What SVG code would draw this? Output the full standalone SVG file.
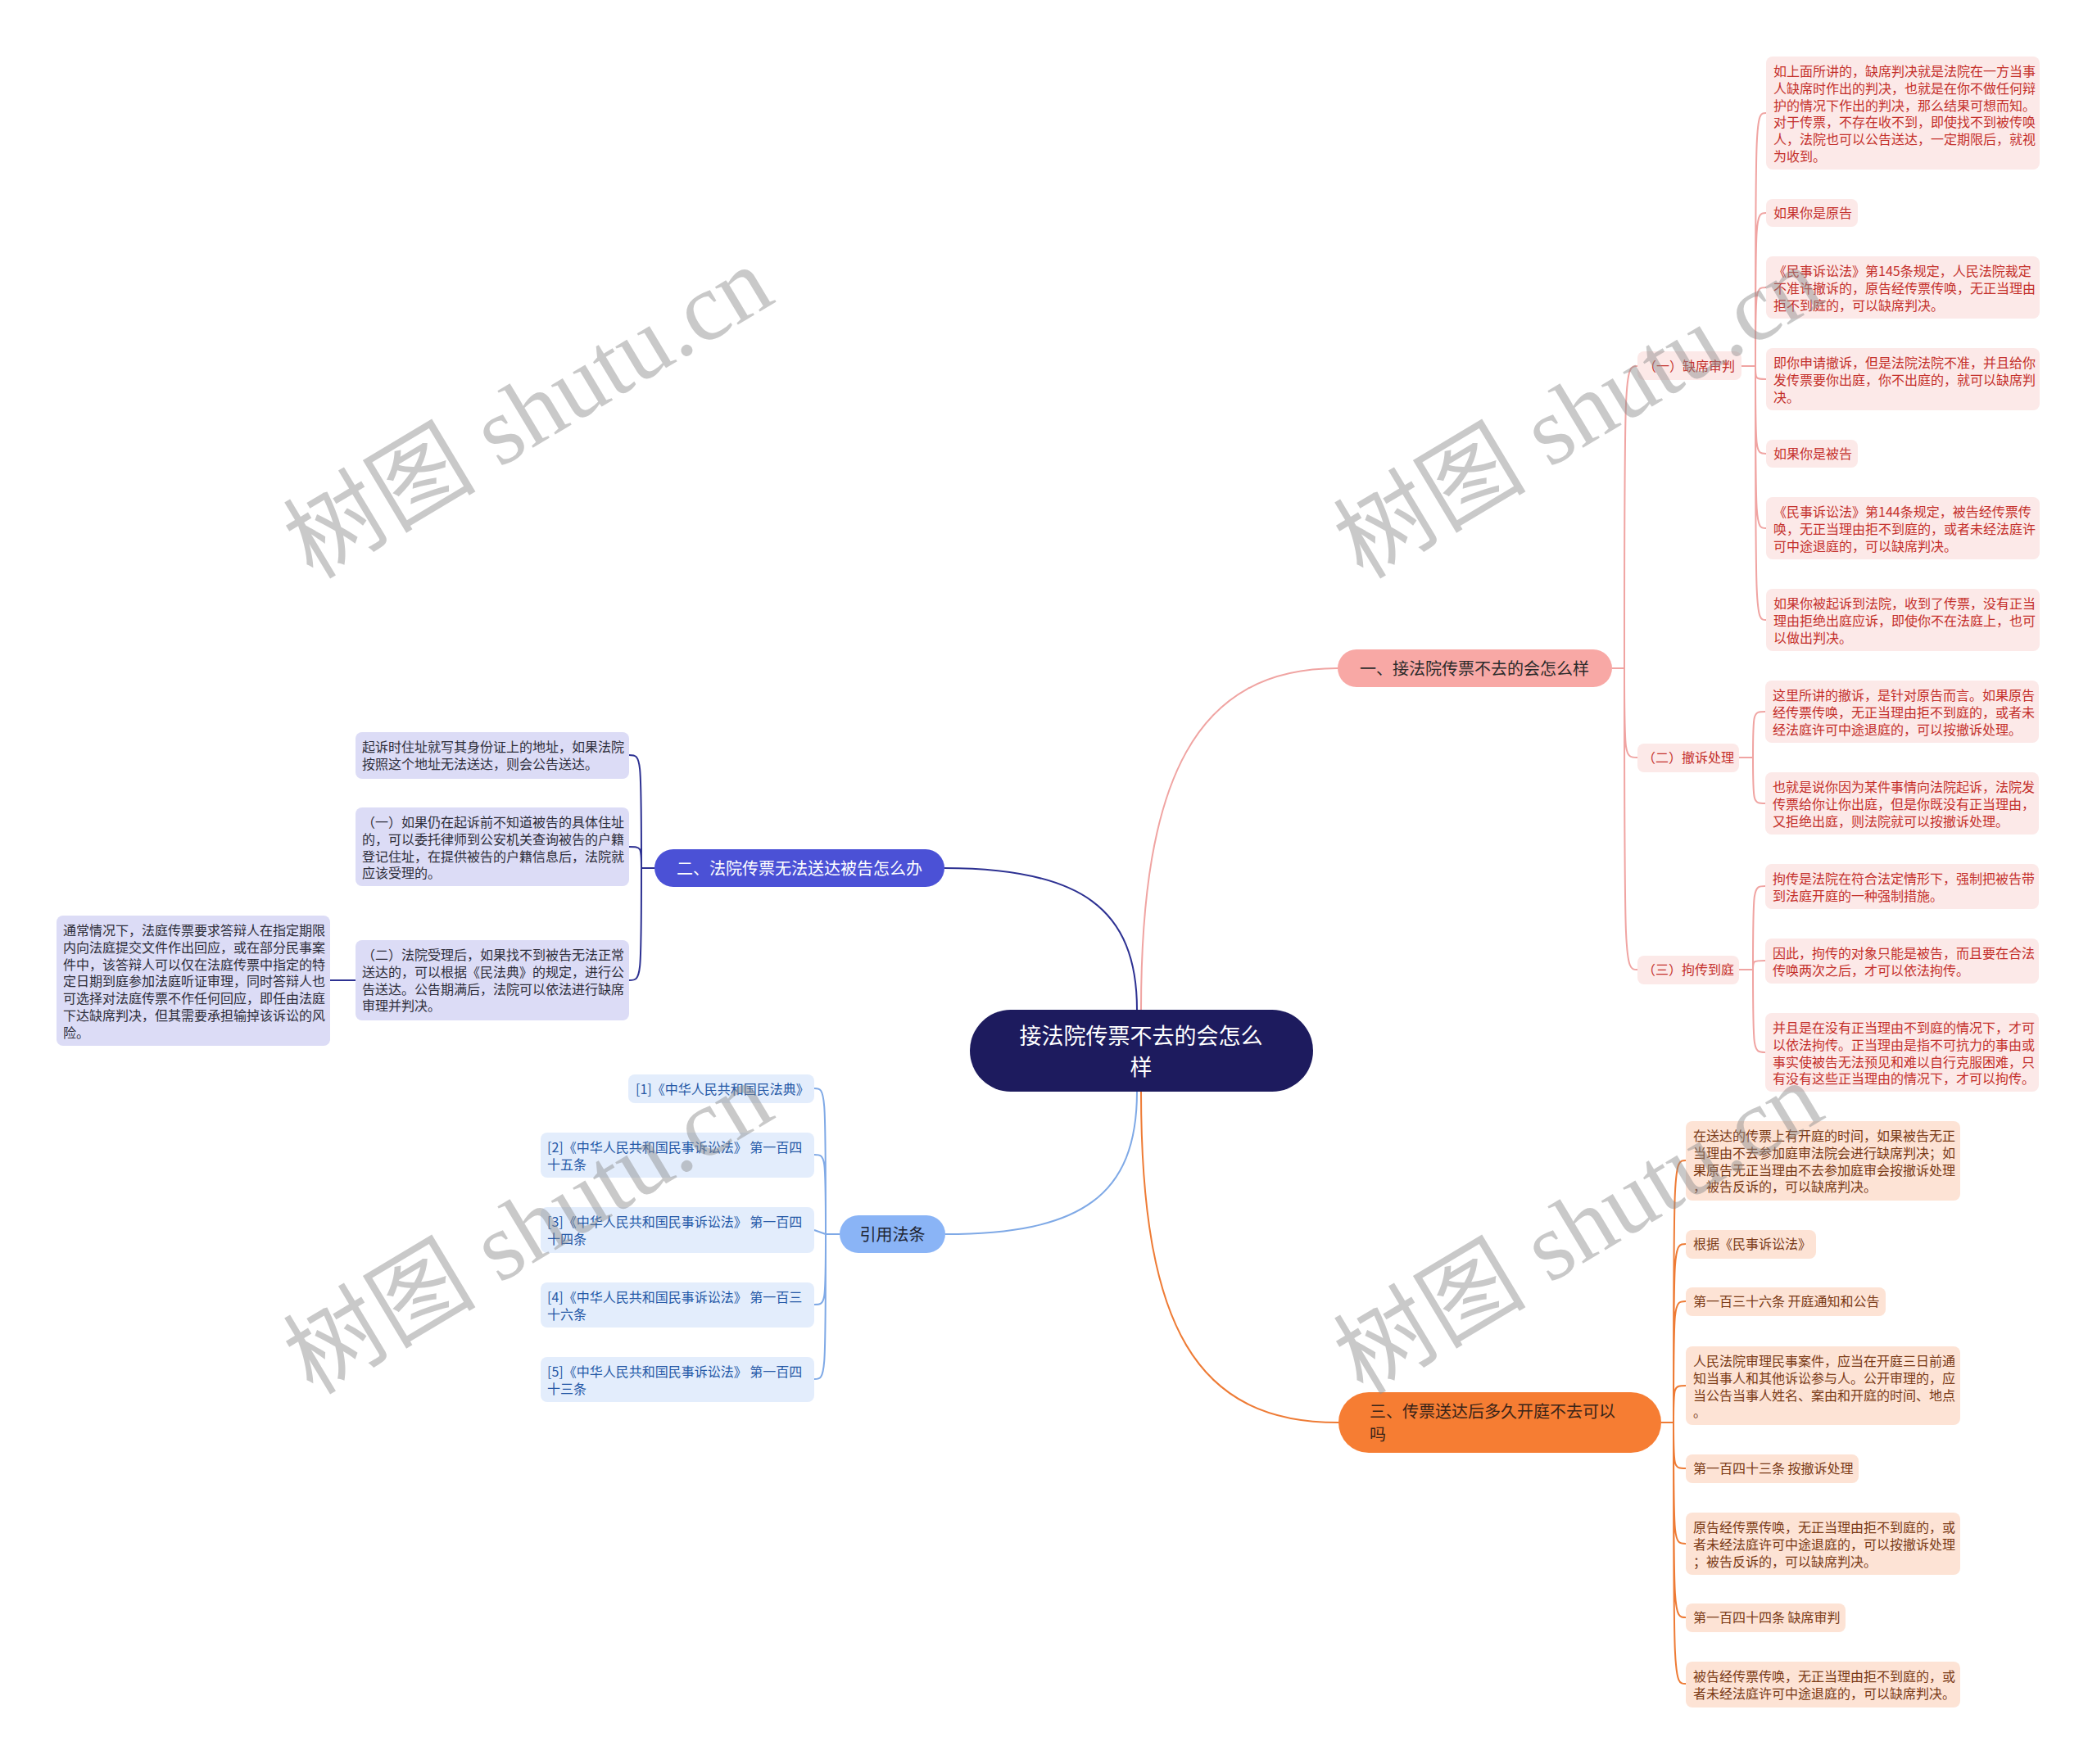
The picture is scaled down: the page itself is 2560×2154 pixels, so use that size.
<svg xmlns="http://www.w3.org/2000/svg" width="2560" height="2154" viewBox="0 0 2560 2154">
<style>
text{font-family:"Noto Sans CJK SC","Noto Sans",sans-serif;}
.s16{font-size:16px;}
.s20{font-size:20px;}
.lp{fill:#C4302B;}
.lb{fill:#2E2E3A;}
.lo{fill:#7A3A16;}
.lr{fill:#2558A6;}
.rp{fill:#FCE9E8;}
.rb{fill:#DCDCF6;}
.ro{fill:#FDE3D5;}
.rr{fill:#E3EDFC;}
.cp{fill:none;stroke:#F0A4A2;stroke-width:2;}
.cb{fill:none;stroke:#2D3192;stroke-width:2;}
.co{fill:none;stroke:#EE7B35;stroke-width:2;}
.cr{fill:none;stroke:#7FA9E6;stroke-width:2;}
.wm{font-family:"Liberation Serif","Noto Sans CJK SC",serif;font-size:118px;fill:#8a8a8a;opacity:0.45;}
</style>
<rect width="2560" height="2154" fill="#ffffff"/>
<g id="connectors">
<path class="cp" stroke-width="2.5" d="M1393,1233 C1393,950 1460,816 1633,816"/>
<path class="cb" stroke-width="2.5" d="M1388,1233 C1388,1110 1320,1060 1153,1060"/>
<path class="cr" stroke-width="2.5" d="M1388,1333 C1388,1460 1320,1507 1154,1507"/>
<path class="co" stroke-width="2.5" d="M1393,1333 C1393,1620 1460,1737 1634,1737"/>
<path class="cp" d="M1968,816 L1983,816 M1983,816 C1983,447 1983,447 1999,447 M1983,816 C1983,925 1983,925 1999,925 M1983,816 C1983,1184 1983,1184 1999,1184"/>
<path class="cp" d="M2126,447 L2143,447 M2143,447 C2143,138 2143,138 2156,138 M2143,447 C2143,260 2143,260 2156,260 M2143,447 C2143,351 2143,351 2156,351 M2143,447 C2143,463 2143,463 2156,463 M2143,447 C2143,554 2143,554 2156,554 M2143,447 C2143,645 2143,645 2156,645 M2143,447 C2143,757 2143,757 2156,757"/>
<path class="cp" d="M2123,925 L2140,925 M2140,925 C2140,869 2140,869 2155,869 M2140,925 C2140,981 2140,981 2155,981"/>
<path class="cp" d="M2123,1184 L2140,1184 M2140,1184 C2140,1082 2140,1082 2155,1082 M2140,1184 C2140,1173 2140,1173 2155,1173 M2140,1184 C2140,1285 2140,1285 2155,1285"/>
<path class="cb" d="M799,1060 L783,1060 M783,1060 C783,922 783,922 768,922 M783,1060 C783,1034 783,1034 768,1034 M783,1060 C783,1197 783,1197 768,1197 M434,1197 L403,1197"/>
<path class="cr" d="M1025,1507 L1008,1507 M1008,1507 C1008,1329 1008,1329 994,1329 M1008,1507 C1008,1410 1008,1410 994,1410 M1008,1507 L994,1502 M1008,1507 C1008,1593 1008,1593 994,1593 M1008,1507 C1008,1684 1008,1684 994,1684"/>
<path class="co" d="M2028,1737 L2043,1737 M2043,1737 C2043,1417 2043,1417 2058,1417 M2043,1737 C2043,1519 2043,1519 2058,1519 M2043,1737 C2043,1589 2043,1589 2058,1589 M2043,1737 C2043,1692 2043,1692 2058,1692 M2043,1737 C2043,1793 2043,1793 2058,1793 M2043,1737 C2043,1885 2043,1885 2058,1885 M2043,1737 C2043,1975 2043,1975 2058,1975 M2043,1737 C2043,2056 2043,2056 2058,2056"/>
</g>

<g id="root">
<rect x="1184" y="1233" width="419" height="100" rx="50" fill="#1D1B5E"/>
<text x="1393" y="1275" font-size="27" fill="#ffffff" text-anchor="middle">接法院传票不去的会怎么</text>
<text x="1393" y="1313" font-size="27" fill="#ffffff" text-anchor="middle">样</text>
</g>

<g id="n1">
<rect x="1633" y="793" width="335" height="46" rx="23" fill="#F8A8A5"/>
<text class="s20" x="1800" y="823.5" fill="#2b2b2b" text-anchor="middle">一、接法院传票不去的会怎么样</text>
</g>
<g id="n1-1">
<rect x="1999" y="429" width="127" height="35" rx="8" class="rp"/>
<text class="s16 lp" x="2062" y="453" text-anchor="middle">（一）缺席审判</text>
</g>
<g id="n1-2">
<rect x="1999" y="908" width="124" height="35" rx="8" class="rp"/>
<text class="s16 lp" x="2061" y="931" text-anchor="middle">（二）撤诉处理</text>
</g>
<g id="n1-3">
<rect x="1999" y="1167" width="124" height="35" rx="8" class="rp"/>
<text class="s16 lp" x="2061" y="1190" text-anchor="middle">（三）拘传到庭</text>
</g>

<g id="p1"><rect x="2156" y="69" width="334" height="138" rx="8" class="rp"/>
<text class="s16 lp" x="2165" y="93"><tspan x="2165">如上面所讲的，缺席判决就是法院在一方当事</tspan><tspan x="2165" dy="20.8">人缺席时作出的判决，也就是在你不做任何辩</tspan><tspan x="2165" dy="20.8">护的情况下作出的判决，那么结果可想而知。</tspan><tspan x="2165" dy="20.8">对于传票，不存在收不到，即使找不到被传唤</tspan><tspan x="2165" dy="20.8">人，法院也可以公告送达，一定期限后，就视</tspan><tspan x="2165" dy="20.8">为收到。</tspan></text></g>
<g id="p2"><rect x="2156" y="243" width="112" height="34" rx="8" class="rp"/>
<text class="s16 lp" x="2165" y="266">如果你是原告</text></g>
<g id="p3"><rect x="2156" y="313" width="334" height="76" rx="8" class="rp"/>
<text class="s16 lp" x="2165" y="337"><tspan x="2165">《民事诉讼法》第145条规定，人民法院裁定</tspan><tspan x="2165" dy="20.8">不准许撤诉的，原告经传票传唤，无正当理由</tspan><tspan x="2165" dy="20.8">拒不到庭的，可以缺席判决。</tspan></text></g>
<g id="p4"><rect x="2156" y="425" width="334" height="76" rx="8" class="rp"/>
<text class="s16 lp" x="2165" y="449"><tspan x="2165">即你申请撤诉，但是法院法院不准，并且给你</tspan><tspan x="2165" dy="20.8">发传票要你出庭，你不出庭的，就可以缺席判</tspan><tspan x="2165" dy="20.8">决。</tspan></text></g>
<g id="p5"><rect x="2156" y="537" width="112" height="34" rx="8" class="rp"/>
<text class="s16 lp" x="2165" y="560">如果你是被告</text></g>
<g id="p6"><rect x="2156" y="607" width="334" height="76" rx="8" class="rp"/>
<text class="s16 lp" x="2165" y="631"><tspan x="2165">《民事诉讼法》第144条规定，被告经传票传</tspan><tspan x="2165" dy="20.8">唤，无正当理由拒不到庭的，或者未经法庭许</tspan><tspan x="2165" dy="20.8">可中途退庭的，可以缺席判决。</tspan></text></g>
<g id="p7"><rect x="2156" y="719" width="334" height="76" rx="8" class="rp"/>
<text class="s16 lp" x="2165" y="743"><tspan x="2165">如果你被起诉到法院，收到了传票，没有正当</tspan><tspan x="2165" dy="20.8">理由拒绝出庭应诉，即使你不在法庭上，也可</tspan><tspan x="2165" dy="20.8">以做出判决。</tspan></text></g>
<g id="q1"><rect x="2155" y="831" width="334" height="76" rx="8" class="rp"/>
<text class="s16 lp" x="2164" y="855"><tspan x="2164">这里所讲的撤诉，是针对原告而言。如果原告</tspan><tspan x="2164" dy="20.8">经传票传唤，无正当理由拒不到庭的，或者未</tspan><tspan x="2164" dy="20.8">经法庭许可中途退庭的，可以按撤诉处理。</tspan></text></g>
<g id="q2"><rect x="2155" y="943" width="334" height="76" rx="8" class="rp"/>
<text class="s16 lp" x="2164" y="967"><tspan x="2164">也就是说你因为某件事情向法院起诉，法院发</tspan><tspan x="2164" dy="20.8">传票给你让你出庭，但是你既没有正当理由，</tspan><tspan x="2164" dy="20.8">又拒绝出庭，则法院就可以按撤诉处理。</tspan></text></g>
<g id="r1"><rect x="2155" y="1055" width="334" height="55" rx="8" class="rp"/>
<text class="s16 lp" x="2164" y="1079"><tspan x="2164">拘传是法院在符合法定情形下，强制把被告带</tspan><tspan x="2164" dy="20.8">到法庭开庭的一种强制措施。</tspan></text></g>
<g id="r2"><rect x="2155" y="1146" width="334" height="55" rx="8" class="rp"/>
<text class="s16 lp" x="2164" y="1170"><tspan x="2164">因此，拘传的对象只能是被告，而且要在合法</tspan><tspan x="2164" dy="20.8">传唤两次之后，才可以依法拘传。</tspan></text></g>
<g id="r3"><rect x="2155" y="1237" width="334" height="96" rx="8" class="rp"/>
<text class="s16 lp" x="2164" y="1261"><tspan x="2164">并且是在没有正当理由不到庭的情况下，才可</tspan><tspan x="2164" dy="20.8">以依法拘传。正当理由是指不可抗力的事由或</tspan><tspan x="2164" dy="20.8">事实使被告无法预见和难以自行克服困难，只</tspan><tspan x="2164" dy="20.8">有没有这些正当理由的情况下，才可以拘传。</tspan></text></g>

<g id="n2">
<rect x="799" y="1037" width="354" height="46" rx="23" fill="#4B51D6"/>
<text class="s20" x="976" y="1067.5" fill="#ffffff" text-anchor="middle">二、法院传票无法送达被告怎么办</text>
</g>
<g id="b1"><rect x="434" y="894" width="334" height="57" rx="8" class="rb"/>
<text class="s16 lb" x="442" y="918"><tspan x="442">起诉时住址就写其身份证上的地址，如果法院</tspan><tspan x="442" dy="20.8">按照这个地址无法送达，则会公告送达。</tspan></text></g>
<g id="b2"><rect x="434" y="986" width="334" height="96" rx="8" class="rb"/>
<text class="s16 lb" x="442" y="1010"><tspan x="442">（一）如果仍在起诉前不知道被告的具体住址</tspan><tspan x="442" dy="20.8">的，可以委托律师到公安机关查询被告的户籍</tspan><tspan x="442" dy="20.8">登记住址，在提供被告的户籍信息后，法院就</tspan><tspan x="442" dy="20.8">应该受理的。</tspan></text></g>
<g id="b3"><rect x="434" y="1148" width="334" height="98" rx="8" class="rb"/>
<text class="s16 lb" x="442" y="1172"><tspan x="442">（二）法院受理后，如果找不到被告无法正常</tspan><tspan x="442" dy="20.8">送达的，可以根据《民法典》的规定，进行公</tspan><tspan x="442" dy="20.8">告送达。公告期满后，法院可以依法进行缺席</tspan><tspan x="442" dy="20.8">审理并判决。</tspan></text></g>
<g id="b4"><rect x="69" y="1118" width="334" height="159" rx="8" class="rb"/>
<text class="s16 lb" x="77" y="1142"><tspan x="77">通常情况下，法庭传票要求答辩人在指定期限</tspan><tspan x="77" dy="20.8">内向法庭提交文件作出回应，或在部分民事案</tspan><tspan x="77" dy="20.8">件中，该答辩人可以仅在法庭传票中指定的特</tspan><tspan x="77" dy="20.8">定日期到庭参加法庭听证审理，同时答辩人也</tspan><tspan x="77" dy="20.8">可选择对法庭传票不作任何回应，即任由法庭</tspan><tspan x="77" dy="20.8">下达缺席判决，但其需要承担输掉该诉讼的风</tspan><tspan x="77" dy="20.8">险。</tspan></text></g>

<g id="n4">
<rect x="1025" y="1484" width="129" height="46" rx="23" fill="#8AB4F6"/>
<text class="s20" x="1089.5" y="1514.5" fill="#1E2433" text-anchor="middle">引用法条</text>
</g>
<g id="ref1"><rect x="767" y="1312" width="227" height="35" rx="8" class="rr"/>
<text class="s16 lr" x="776" y="1336">[1]《中华人民共和国民法典》</text></g>
<g id="ref2"><rect x="660" y="1383" width="334" height="55" rx="8" class="rr"/>
<text class="s16 lr" x="668" y="1407"><tspan x="668">[2]《中华人民共和国民事诉讼法》 第一百四</tspan><tspan x="668" dy="20.8">十五条</tspan></text></g>
<g id="ref3"><rect x="660" y="1474" width="334" height="56" rx="8" class="rr"/>
<text class="s16 lr" x="668" y="1498"><tspan x="668">[3]《中华人民共和国民事诉讼法》 第一百四</tspan><tspan x="668" dy="20.8">十四条</tspan></text></g>
<g id="ref4"><rect x="660" y="1566" width="334" height="55" rx="8" class="rr"/>
<text class="s16 lr" x="668" y="1590"><tspan x="668">[4]《中华人民共和国民事诉讼法》 第一百三</tspan><tspan x="668" dy="20.8">十六条</tspan></text></g>
<g id="ref5"><rect x="660" y="1657" width="334" height="55" rx="8" class="rr"/>
<text class="s16 lr" x="668" y="1681"><tspan x="668">[5]《中华人民共和国民事诉讼法》 第一百四</tspan><tspan x="668" dy="20.8">十三条</tspan></text></g>

<g id="n3">
<rect x="1634" y="1700" width="394" height="74" rx="37" fill="#F67D33"/>
<text class="s20" x="1672" y="1730.5" fill="#3A2418"><tspan x="1672">三、传票送达后多久开庭不去可以</tspan><tspan x="1672" dy="28">吗</tspan></text>
</g>
<g id="o1"><rect x="2058" y="1369" width="335" height="97" rx="8" class="ro"/>
<text class="s16 lo" x="2067" y="1393"><tspan x="2067">在送达的传票上有开庭的时间，如果被告无正</tspan><tspan x="2067" dy="20.8">当理由不去参加庭审法院会进行缺席判决；如</tspan><tspan x="2067" dy="20.8">果原告无正当理由不去参加庭审会按撤诉处理</tspan><tspan x="2067" dy="20.8">，被告反诉的，可以缺席判决。</tspan></text></g>
<g id="o2"><rect x="2058" y="1502" width="159" height="35" rx="8" class="ro"/>
<text class="s16 lo" x="2067" y="1525">根据《民事诉讼法》</text></g>
<g id="o3"><rect x="2058" y="1572" width="244" height="35" rx="8" class="ro"/>
<text class="s16 lo" x="2067" y="1595">第一百三十六条 开庭通知和公告</text></g>
<g id="o4"><rect x="2058" y="1644" width="335" height="96" rx="8" class="ro"/>
<text class="s16 lo" x="2067" y="1668"><tspan x="2067">人民法院审理民事案件，应当在开庭三日前通</tspan><tspan x="2067" dy="20.8">知当事人和其他诉讼参与人。公开审理的，应</tspan><tspan x="2067" dy="20.8">当公告当事人姓名、案由和开庭的时间、地点</tspan><tspan x="2067" dy="20.8">。</tspan></text></g>
<g id="o5"><rect x="2058" y="1776" width="211" height="35" rx="8" class="ro"/>
<text class="s16 lo" x="2067" y="1799">第一百四十三条 按撤诉处理</text></g>
<g id="o6"><rect x="2058" y="1847" width="335" height="76" rx="8" class="ro"/>
<text class="s16 lo" x="2067" y="1871"><tspan x="2067">原告经传票传唤，无正当理由拒不到庭的，或</tspan><tspan x="2067" dy="20.8">者未经法庭许可中途退庭的，可以按撤诉处理</tspan><tspan x="2067" dy="20.8">；被告反诉的，可以缺席判决。</tspan></text></g>
<g id="o7"><rect x="2058" y="1958" width="195" height="35" rx="8" class="ro"/>
<text class="s16 lo" x="2067" y="1981">第一百四十四条 缺席审判</text></g>
<g id="o8"><rect x="2058" y="2029" width="335" height="56" rx="8" class="ro"/>
<text class="s16 lo" x="2067" y="2053"><tspan x="2067">被告经传票传唤，无正当理由拒不到庭的，或</tspan><tspan x="2067" dy="20.8">者未经法庭许可中途退庭的，可以缺席判决。</tspan></text></g>

<g id="watermark">
<text class="wm" x="651" y="542" text-anchor="middle" transform="rotate(-31 651 514)">树图 shutu.cn</text>
<text class="wm" x="1933" y="542" text-anchor="middle" transform="rotate(-31 1933 514)">树图 shutu.cn</text>
<text class="wm" x="651" y="1538" text-anchor="middle" transform="rotate(-31 651 1510)">树图 shutu.cn</text>
<text class="wm" x="1933" y="1538" text-anchor="middle" transform="rotate(-31 1933 1510)">树图 shutu.cn</text>
</g>
</svg>
